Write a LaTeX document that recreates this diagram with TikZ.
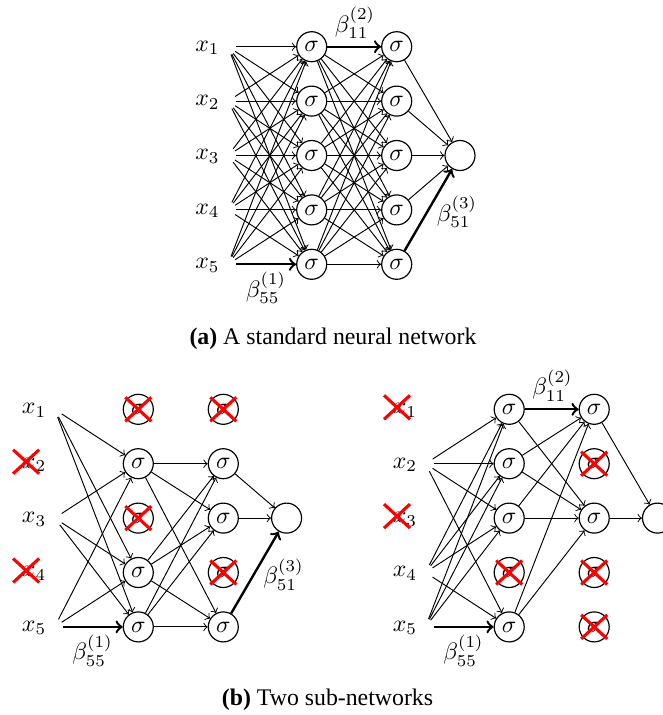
\documentclass[tikz,border=0pt]{standalone}
\usepackage{fontspec}
\newfontfamily\capfont{Liberation Serif}
\newcommand\xcross[3]{\draw[redx] ([shift={(#2-13,#3-12)}]#1.center) -- ([shift={(#2+13,#3+12)}]#1.center) ([shift={(#2-13,#3+12)}]#1.center) -- ([shift={(#2+13,#3-12)}]#1.center);}
\begin{document}
\begin{tikzpicture}[x=0.42pt,y=-0.42pt,
  neuron/.style={circle,draw,line width=0.5pt,minimum size=12.6pt,inner sep=0pt},
  inpt/.style={circle,minimum size=6.7pt,inner sep=0pt},
  inlab/.style={inner sep=0pt},
  edge/.style={->,line width=0.4pt},
  boldedge/.style={->,line width=1pt},
  redx/.style={red,line width=1.3pt},
  wlab/.style={inner sep=0pt},
  caption/.style={font=\capfont,inner sep=0pt}]
\useasboundingbox (0,0) rectangle (663,715);

% ---------- (a) full network ----------
\begin{scope}
\foreach \k in {1,...,5} {
  \pgfmathsetmacro\yy{46.7+54.4*(\k-1)}
  \node[inlab] (a-l\k) at (207.5,\yy+1) {$x_\k$};
  \node[inpt] (a-i\k) at (228,\yy) {};
  \node[neuron] (a-h\k) at (311.7,\yy) {$\sigma$};
  \node[neuron] (a-g\k) at (396.7,\yy) {$\sigma$};
}
\node[neuron] (a-o) at (460,155.5) {};
\foreach \i in {1,...,5} \foreach \j in {1,...,5} {
  \ifnum\i\j=55 \else \draw[edge] (a-i\i) -- (a-h\j); \fi
  \ifnum\i\j=11 \else \draw[edge] (a-h\i) -- (a-g\j); \fi
}
\foreach \i in {1,...,4} \draw[edge] (a-g\i) -- (a-o);
\draw[boldedge] (a-i5) -- (a-h5);
\draw[boldedge] (a-h1) -- (a-g1);
\draw[boldedge] (a-g5) -- (a-o);
\node[wlab] (a-b2) at (355,23) {$\beta^{(2)}_{11}$};
\node[wlab] (a-b1) at (266,288) {$\beta^{(1)}_{55}$};
\node[wlab] (a-b3) at (457,212) {$\beta^{(3)}_{51}$};
\end{scope}
\node[caption] (capa) at (333,339) {\textbf{(a)} A standard neural network};

% ---------- (b) left sub-network ----------
\begin{scope}[shift={(-173.4,362.6)}]
\foreach \k in {1,...,5} {
  \pgfmathsetmacro\yy{46.7+54.4*(\k-1)}
  \node[inlab] (b-l\k) at (207.5,\yy+1) {$x_\k$};
  \node[inpt] (b-i\k) at (228,\yy) {};
  \node[neuron] (b-h\k) at (311.7,\yy) {$\sigma$};
  \node[neuron] (b-g\k) at (396.7,\yy) {$\sigma$};
}
\node[neuron] (b-o) at (460,155.5) {};
\foreach \i in {1,3,5} \foreach \j in {2,4,5} {
  \ifnum\i\j=55 \else \draw[edge] (b-i\i) -- (b-h\j); \fi
}
\foreach \i in {2,4,5} \foreach \j in {2,3,5} \draw[edge] (b-h\i) -- (b-g\j);
\foreach \i in {2,3} \draw[edge] (b-g\i) -- (b-o);
\draw[boldedge] (b-i5) -- (b-h5);
\draw[boldedge] (b-g5) -- (b-o);
\node[wlab] (b-b1) at (266,288) {$\beta^{(1)}_{55}$};
\node[wlab] (b-b3) at (457,212) {$\beta^{(3)}_{51}$};
\end{scope}

% ---------- (b) right sub-network ----------
\begin{scope}[shift={(197.5,362.6)}]
\foreach \k in {1,...,5} {
  \pgfmathsetmacro\yy{46.7+54.4*(\k-1)}
  \node[inlab] (c-l\k) at (207.5,\yy+1) {$x_\k$};
  \node[inpt] (c-i\k) at (228,\yy) {};
  \node[neuron] (c-h\k) at (311.7,\yy) {$\sigma$};
  \node[neuron] (c-g\k) at (396.7,\yy) {$\sigma$};
}
\node[neuron] (c-o) at (460,155.5) {};
\foreach \i in {2,4,5} \foreach \j in {1,2,3,5} {
  \ifnum\i\j=55 \else \draw[edge] (c-i\i) -- (c-h\j); \fi
}
\foreach \i in {1,2,3,5} \foreach \j in {1,3} {
  \ifnum\i\j=11 \else \draw[edge] (c-h\i) -- (c-g\j); \fi
}
\foreach \i in {1,3} \draw[edge] (c-g\i) -- (c-o);
\draw[boldedge] (c-i5) -- (c-h5);
\draw[boldedge] (c-h1) -- (c-g1);
\node[wlab] (c-b2) at (355,23) {$\beta^{(2)}_{11}$};
\node[wlab] (c-b1) at (266,288) {$\beta^{(1)}_{55}$};
\end{scope}

% ---------- red crosses ----------
\xcross{b-l2}{-8}{-3}
\xcross{b-l4}{-8}{-3}
\xcross{b-h1}{0}{0}
\xcross{b-h3}{0}{0}
\xcross{b-g1}{0}{0}
\xcross{b-g4}{0}{0}
\xcross{c-l1}{-8}{-3}
\xcross{c-l3}{-8}{-3}
\xcross{c-h4}{0}{0}
\xcross{c-g2}{0}{0}
\xcross{c-g4}{0}{0}
\xcross{c-g5}{0}{0}

\node[caption] (capb) at (327.5,700) {\textbf{(b)} Two sub-networks};
\end{tikzpicture}
\end{document}
